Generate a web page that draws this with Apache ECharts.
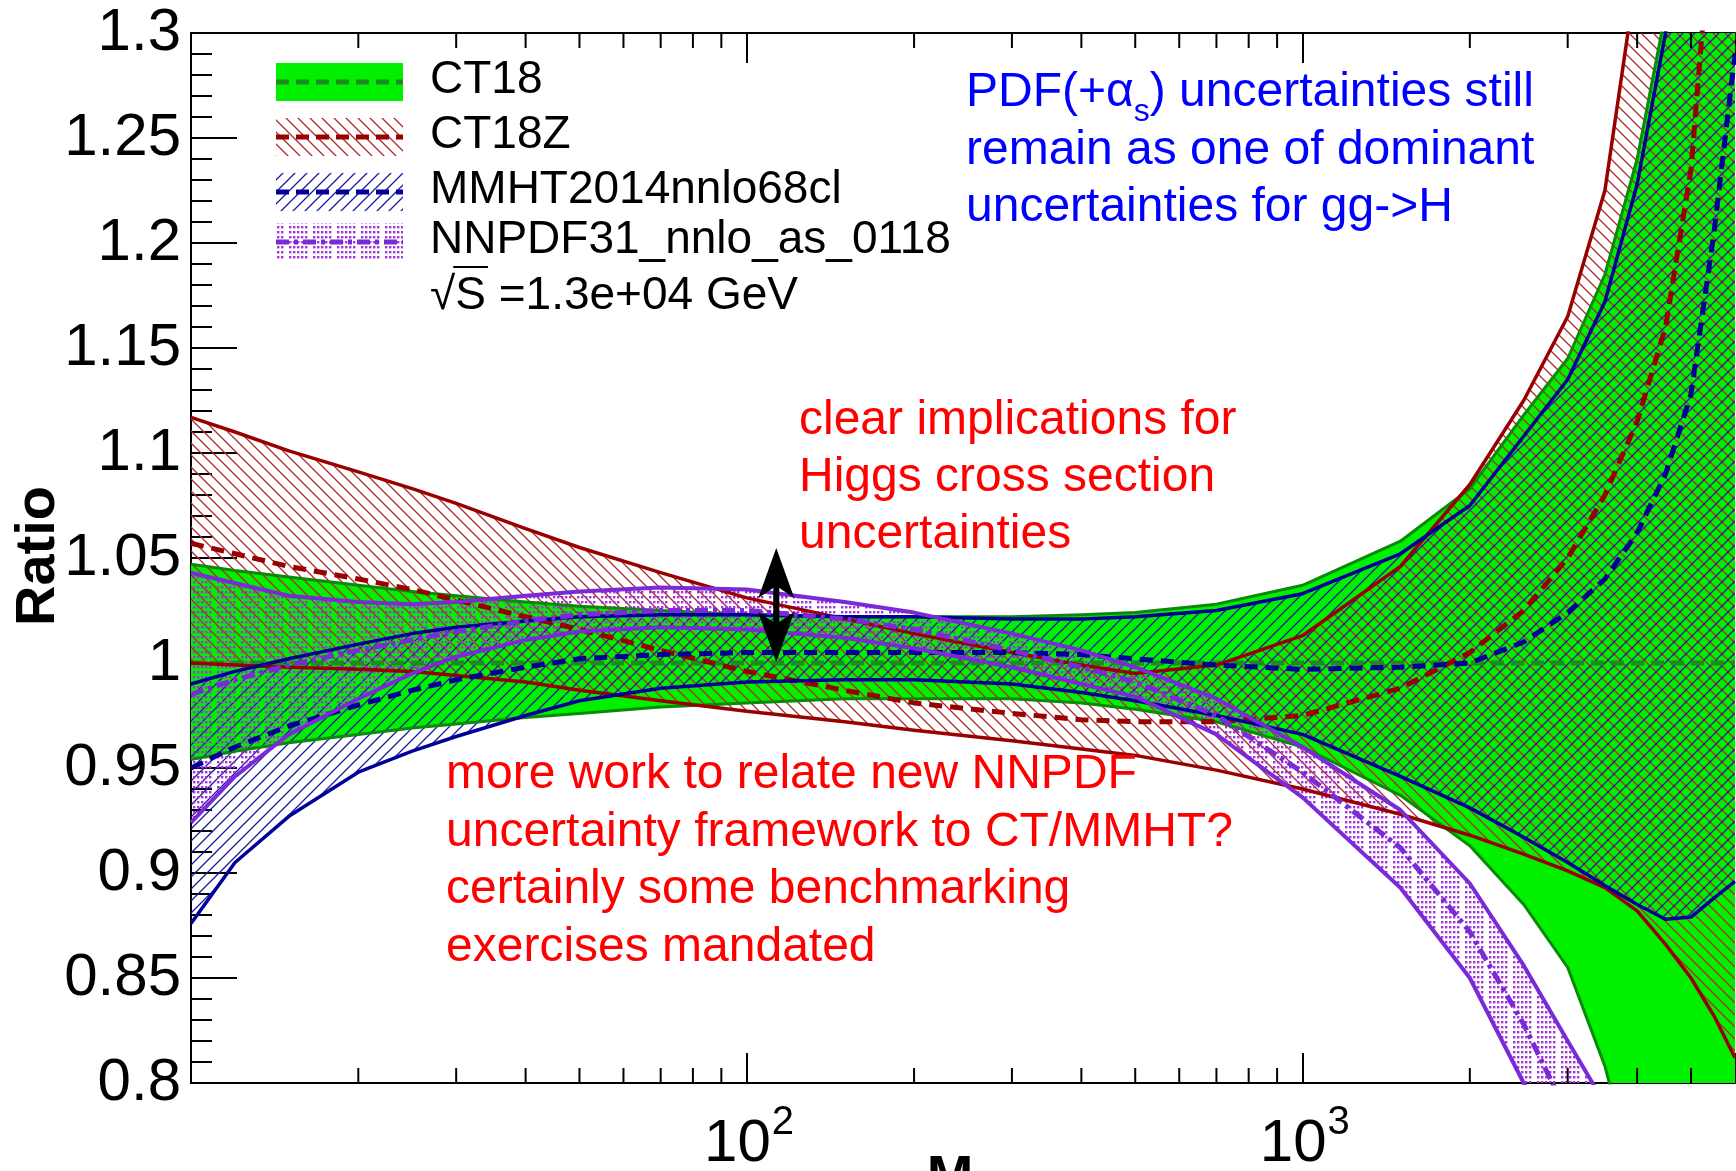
<!DOCTYPE html>
<html><head><meta charset="utf-8">
<script src="https://cdn.jsdelivr.net/npm/echarts@6/dist/echarts.min.js"></script>
<style>html,body{margin:0;padding:0;background:#fff;}#c{width:1736px;height:1171px;}</style>
</head><body><div id="c"></div>
<script>
// ---------------- data ----------------
const massPoints   = [10, 12, 15, 20, 25, 30, 40, 50, 70, 100, 150, 200, 300, 400, 500, 700, 1000, 1500, 2000, 2500, 3000, 3500, 4000, 4500, 5000, 5500, 6000];
const ct18Central  = [1, 1, 1, 1, 1, 1, 1, 1, 1, 1, 1, 1, 1, 1, 1, 1, 1, 1, 1, 1, 1, 1, 1, 1, 1, 1, 1];
const ct18Upper    = [1.047, 1.044, 1.041, 1.037, 1.034, 1.032, 1.029, 1.027, 1.025, 1.023, 1.022, 1.022, 1.022, 1.023, 1.024, 1.028, 1.037, 1.058, 1.083, 1.118, 1.145, 1.185, 1.240, 1.310, 1.400, 1.500, 1.600];
const ct18Lower    = [0.954, 0.958, 0.962, 0.966, 0.969, 0.971, 0.974, 0.976, 0.979, 0.981, 0.983, 0.983, 0.983, 0.981, 0.978, 0.972, 0.960, 0.937, 0.913, 0.885, 0.855, 0.808, 0.750, 0.690, 0.630, 0.570, 0.510];
const ct18zCentral = [1.057, 1.052, 1.046, 1.040, 1.035, 1.030, 1.022, 1.016, 1.006, 0.996, 0.987, 0.981, 0.976, 0.973, 0.972, 0.972, 0.975, 0.988, 1.005, 1.025, 1.050, 1.080, 1.115, 1.160, 1.235, 1.370, 1.500];
const ct18zUpper   = [1.117, 1.110, 1.101, 1.091, 1.083, 1.076, 1.064, 1.055, 1.043, 1.031, 1.021, 1.014, 1.005, 0.999, 0.995, 0.999, 1.013, 1.046, 1.085, 1.125, 1.165, 1.225, 1.330, 1.450, 1.580, 1.700, 1.800];
const ct18zLower   = [1.000, 0.999, 0.998, 0.997, 0.996, 0.994, 0.991, 0.987, 0.982, 0.977, 0.972, 0.968, 0.963, 0.959, 0.956, 0.949, 0.940, 0.928, 0.918, 0.909, 0.901, 0.893, 0.882, 0.866, 0.850, 0.832, 0.812];
const mmhtCentral  = [0.950, 0.960, 0.970, 0.980, 0.987, 0.992, 0.998, 1.002, 1.004, 1.005, 1.005, 1.005, 1.005, 1.004, 1.002, 0.999, 0.997, 0.998, 1.000, 1.010, 1.024, 1.040, 1.062, 1.090, 1.128, 1.205, 1.290];
const mmhtUpper    = [0.990, 0.996, 1.002, 1.009, 1.014, 1.017, 1.020, 1.022, 1.023, 1.023, 1.022, 1.022, 1.021, 1.021, 1.022, 1.025, 1.033, 1.052, 1.075, 1.108, 1.135, 1.172, 1.228, 1.300, 1.380, 1.470, 1.560];
const mmhtLower    = [0.876, 0.905, 0.927, 0.948, 0.958, 0.965, 0.975, 0.982, 0.988, 0.991, 0.992, 0.992, 0.990, 0.986, 0.982, 0.975, 0.966, 0.946, 0.931, 0.917, 0.905, 0.894, 0.885, 0.878, 0.879, 0.888, 0.896];
const nnpdfCentral = [0.985, 0.992, 0.999, 1.006, 1.011, 1.015, 1.020, 1.023, 1.025, 1.025, 1.021, 1.016, 1.006, 0.998, 0.991, 0.975, 0.948, 0.912, 0.872, 0.828, 0.785, 0.745, 0.705, 0.670, 0.635, 0.600, 0.570];
const nnpdfUpper   = [1.043, 1.038, 1.032, 1.029, 1.028, 1.029, 1.032, 1.034, 1.036, 1.035, 1.029, 1.024, 1.014, 1.006, 0.998, 0.983, 0.960, 0.930, 0.895, 0.856, 0.820, 0.790, 0.760, 0.730, 0.700, 0.670, 0.640];
const nnpdfLower   = [0.924, 0.946, 0.966, 0.983, 0.995, 1.003, 1.011, 1.015, 1.017, 1.016, 1.012, 1.007, 0.998, 0.990, 0.984, 0.966, 0.936, 0.893, 0.850, 0.800, 0.750, 0.700, 0.650, 0.610, 0.570, 0.530, 0.500];
const xMinorTicks  = [20, 30, 40, 50, 60, 70, 80, 90, 200, 300, 400, 500, 600, 700, 800, 900, 2000, 3000, 4000, 5000];
const xTickLabels  = [[100, '10', '2'], [1000, '10', '3']];
const arrowMass    = [113];
const arrowSpan    = [1.0005, 1.0548];
const legendLabels = ['CT18', 'CT18Z', 'MMHT2014nnlo68cl', 'NNPDF31_nnlo_as_0118'];
const energyLabel  = 'S =1.3e+04 GeV';
const noteBlue     = ['PDF(+α', 's', ') uncertainties still', 'remain as one of dominant', 'uncertainties for gg->H'];
const noteRed1     = ['clear implications for', 'Higgs cross section', 'uncertainties'];
const noteRed2     = ['more work to relate new NNPDF', 'uncertainty framework to CT/MMHT?', 'certainly some benchmarking', 'exercises mandated'];

// ---------------- styles ----------------
const FONT = 'Liberation Sans';
const C = {
  green: '#00f000', greenEdge: '#0a8a0a', greenDash: '#1f8a1f',
  red: '#990000', redHatch: '#b02828',
  blue: '#000099', blueHatch: '#1a1aa0',
  violet: '#7a2ad6', violetDot: '#a236d6'
};
function hatch(color, dir, s, lw) {
  const c = document.createElement('canvas'); c.width = s; c.height = s;
  const g = c.getContext('2d'); g.strokeStyle = color; g.lineWidth = lw; g.beginPath();
  if (dir === 'back') {
    g.moveTo(-2, -2); g.lineTo(s + 2, s + 2);
    g.moveTo(s - 3, -3); g.lineTo(s + 3, 3);
    g.moveTo(-3, s - 3); g.lineTo(3, s + 3);
  } else {
    g.moveTo(-2, s + 2); g.lineTo(s + 2, -2);
    g.moveTo(-3, 3); g.lineTo(3, -3);
    g.moveTo(s - 3, s + 3); g.lineTo(s + 3, s - 3);
  }
  g.stroke();
  return { type: 'pattern', image: c, repeat: 'repeat' };
}
function dots(color) {
  const c = document.createElement('canvas'); c.width = 24; c.height = 5;
  const g = c.getContext('2d'); g.fillStyle = color;
  for (let x = 1; x < 21; x += 4) g.fillRect(x, 1, 2.4, 2.4);
  return { type: 'pattern', image: c, repeat: 'repeat' };
}
const redPat = hatch(C.redHatch, 'back', 12, 1.3);
const bluePat = hatch(C.blueHatch, 'fwd', 12, 1.3);
const dotPat = dots(C.violetDot);

function band(name, upper, lower, fill, z) {
  return {
    type: 'custom', name, clip: true, z, silent: true,
    data: [[massPoints[0], lower[0]]],
    renderItem: (params, api) => {
      const pts = [];
      for (let i = 0; i < massPoints.length; i++) pts.push(api.coord([massPoints[i], upper[i]]));
      for (let i = massPoints.length - 1; i >= 0; i--) pts.push(api.coord([massPoints[i], lower[i]]));
      return { type: 'polygon', shape: { points: pts }, style: { fill: fill, stroke: null } };
    }
  };
}
function curve(name, values, color, width, dash, z) {
  return {
    type: 'line', name, z, silent: true, clip: true, showSymbol: false, symbol: 'none',
    data: massPoints.map((m, i) => [m, values[i]]),
    lineStyle: { color, width, type: dash || 'solid', cap: 'butt', join: 'round' }
  };
}

const mctx = document.createElement('canvas').getContext('2d');
function tw(t, size) { mctx.font = size + 'px "' + FONT + '"'; return mctx.measureText(t).width; }

function txt(x, y, text, size, color, extra) {
  return Object.assign({ type: 'text', x, y, z: 200, silent: true,
    style: Object.assign({ text, fontSize: size, fontFamily: FONT, fill: color, align: 'left', verticalAlign: 'middle' }, extra || {}) });
}

const elements = [];
// legend
const rows = [
  { y: 82, fill: C.green, dash: [13, 7], col: C.greenDash },
  { y: 137, fill: redPat, dash: [13, 7], col: C.red },
  { y: 192, fill: bluePat, dash: [13, 7], col: C.blue },
  { y: 242, fill: dotPat, dash: [13, 5, 4, 5], col: C.violet }
];
rows.forEach((r, i) => {
  elements.push({ type: 'rect', z: 150, silent: true, shape: { x: 276, y: r.y - 19, width: 127, height: 38 }, style: { fill: r.fill } });
  elements.push({ type: 'line', z: 151, silent: true, shape: { x1: 276, y1: r.y, x2: 403, y2: r.y }, style: { stroke: r.col, lineWidth: 5, lineDash: r.dash } });
  elements.push(txt(430, r.y - 2, legendLabels[i], 46, '#000'));
});
elements.push(txt(430, 296, '√', 46, '#000'));
const sqrtW = tw('√', 46);
elements.push(txt(430 + sqrtW, 296, energyLabel, 46, '#000'));
elements.push({ type: 'line', z: 151, silent: true, shape: { x1: 430 + sqrtW - 2, y1: 267, x2: 430 + sqrtW + tw('S', 46) + 2, y2: 267 }, style: { stroke: '#000', lineWidth: 2 } });

// blue note
const bx = 966, bfs = 48;
const w1 = tw(noteBlue[0], bfs), w2 = tw(noteBlue[1], 32);
elements.push(txt(bx, 93, noteBlue[0], bfs, '#0000ff'));
elements.push(txt(bx + w1, 112, noteBlue[1], 32, '#0000ff'));
elements.push(txt(bx + w1 + w2, 93, noteBlue[2], bfs, '#0000ff'));
elements.push(txt(bx, 151, noteBlue[3], bfs, '#0000ff'));
elements.push(txt(bx, 208, noteBlue[4], bfs, '#0000ff'));
// red notes
noteRed1.forEach((t, i) => elements.push(txt(799, 421 + i * 57, t, 48, '#ff0000')));
noteRed2.forEach((t, i) => elements.push(txt(446, 775 + i * 57.5, t, 48, '#ff0000')));
// axis titles
elements.push({ type: 'text', x: 39, y: 556, rotation: Math.PI / 2, z: 200, silent: true,
  style: { text: 'Ratio', fontSize: 56, fontWeight: 'bold', fontFamily: FONT, fill: '#000', align: 'center', verticalAlign: 'middle' } });
elements.push({ type: 'text', x: 950, y: 1151, z: 200, silent: true,
  style: { text: 'M', fontSize: 56, fontWeight: 'bold', fontFamily: FONT, fill: '#000', align: 'center', verticalAlign: 'top' } });

const axisLineStyle = { color: '#000', width: 2 };

const option = {
  animation: false,
  backgroundColor: '#ffffff',
  grid: { left: 191, right: 1, top: 33, bottom: 88, containLabel: false, outerBoundsMode: 'none' },
  xAxis: [
    { type: 'log', logBase: 10, min: 10, max: 6000, position: 'bottom',
      axisLine: { show: true, onZero: false, lineStyle: axisLineStyle },
      axisTick: { show: true, inside: true, length: 30, lineStyle: axisLineStyle },
      minorTick: { show: false }, splitLine: { show: false }, axisLabel: { show: false } },
    { type: 'log', logBase: 10, min: 10, max: 6000, position: 'top',
      axisLine: { show: true, onZero: false, lineStyle: axisLineStyle },
      axisTick: { show: true, inside: true, length: 30, lineStyle: axisLineStyle },
      minorTick: { show: false }, splitLine: { show: false }, axisLabel: { show: false } }
  ],
  yAxis: [{
    type: 'value', min: 0.8, max: 1.3, interval: 0.05,
    axisLine: { show: true, onZero: false, lineStyle: axisLineStyle },
    axisTick: { show: true, inside: true, length: 46, lineStyle: axisLineStyle },
    minorTick: { show: true, splitNumber: 5, length: 21, lineStyle: axisLineStyle },
    splitLine: { show: false },
    axisLabel: { fontSize: 60, fontFamily: FONT, color: '#000', margin: 10,
      formatter: v => String(parseFloat(Number(v).toFixed(2))) }
  }],
  series: [
    band('CT18 band', ct18Upper, ct18Lower, C.green, 1),
    band('CT18Z band', ct18zUpper, ct18zLower, redPat, 2),
    band('MMHT band', mmhtUpper, mmhtLower, bluePat, 3),
    band('NNPDF band', nnpdfUpper, nnpdfLower, dotPat, 4),
    curve('CT18 up', ct18Upper, C.greenEdge, 3, null, 5),
    curve('CT18 lo', ct18Lower, C.greenEdge, 3, null, 5),
    curve('CT18', ct18Central, C.greenDash, 5, [13, 7], 5),
    curve('CT18Z up', ct18zUpper, C.red, 3.5, null, 6),
    curve('CT18Z lo', ct18zLower, C.red, 3.5, null, 6),
    curve('CT18Z', ct18zCentral, C.red, 5, [13, 8], 6),
    curve('MMHT up', mmhtUpper, C.blue, 3.5, null, 7),
    curve('MMHT lo', mmhtLower, C.blue, 3.5, null, 7),
    curve('MMHT', mmhtCentral, C.blue, 5, [13, 8], 7),
    curve('NNPDF up', nnpdfUpper, C.violet, 4, null, 8),
    curve('NNPDF lo', nnpdfLower, C.violet, 4, null, 8),
    curve('NNPDF', nnpdfCentral, C.violet, 5, [13, 5, 4, 5], 8),
    { type: 'custom', name: 'minor ticks', z: 30, silent: true,
      data: xMinorTicks.map(v => [v, 0.8]),
      renderItem: (params, api) => {
        const v = api.value(0);
        const b = api.coord([v, 0.8]), t = api.coord([v, 1.3]);
        return { type: 'group', children: [
          { type: 'line', shape: { x1: b[0], y1: b[1], x2: b[0], y2: b[1] - 15 }, style: { stroke: '#000', lineWidth: 2 } },
          { type: 'line', shape: { x1: t[0], y1: t[1], x2: t[0], y2: t[1] + 15 }, style: { stroke: '#000', lineWidth: 2 } }
        ] };
      } },
    { type: 'custom', name: 'x labels', z: 50, silent: true,
      data: xTickLabels.map(d => [d[0], 0.8]),
      renderItem: (params, api) => {
        const d = xTickLabels[params.dataIndex];
        const p = api.coord([d[0], 0.8]);
        return { type: 'group', children: [
          { type: 'text', x: p[0] + 24, y: p[1] + 61, style: { text: d[1], fontSize: 60, fontFamily: FONT, fill: '#000', align: 'right', verticalAlign: 'middle' } },
          { type: 'text', x: p[0] + 25, y: p[1] + 40, style: { text: d[2], fontSize: 40, fontFamily: FONT, fill: '#000', align: 'left', verticalAlign: 'middle' } }
        ] };
      } },
    { type: 'custom', name: 'arrow', z: 40, silent: true,
      data: [[arrowMass[0], arrowSpan[0]]],
      renderItem: (params, api) => {
        const a = api.coord([arrowMass[0], arrowSpan[0]]), b = api.coord([arrowMass[0], arrowSpan[1]]);
        const x = a[0], yB = a[1], yT = b[1], hl = 50, hw = 18, n = 12;
        return { type: 'group', children: [
          { type: 'line', shape: { x1: x, y1: yT + hl - n, x2: x, y2: yB - hl + n }, style: { stroke: '#000', lineWidth: 6 } },
          { type: 'polygon', shape: { points: [[x, yT], [x + hw, yT + hl], [x, yT + hl - n], [x - hw, yT + hl]] }, style: { fill: '#000' } },
          { type: 'polygon', shape: { points: [[x, yB], [x + hw, yB - hl], [x, yB - hl + n], [x - hw, yB - hl]] }, style: { fill: '#000' } }
        ] };
      } }
  ],
  graphic: { elements }
};
const chart = echarts.init(document.getElementById('c'), null, { renderer: 'canvas', width: 1736, height: 1171 });
chart.setOption(option);
</script>
</body></html>
